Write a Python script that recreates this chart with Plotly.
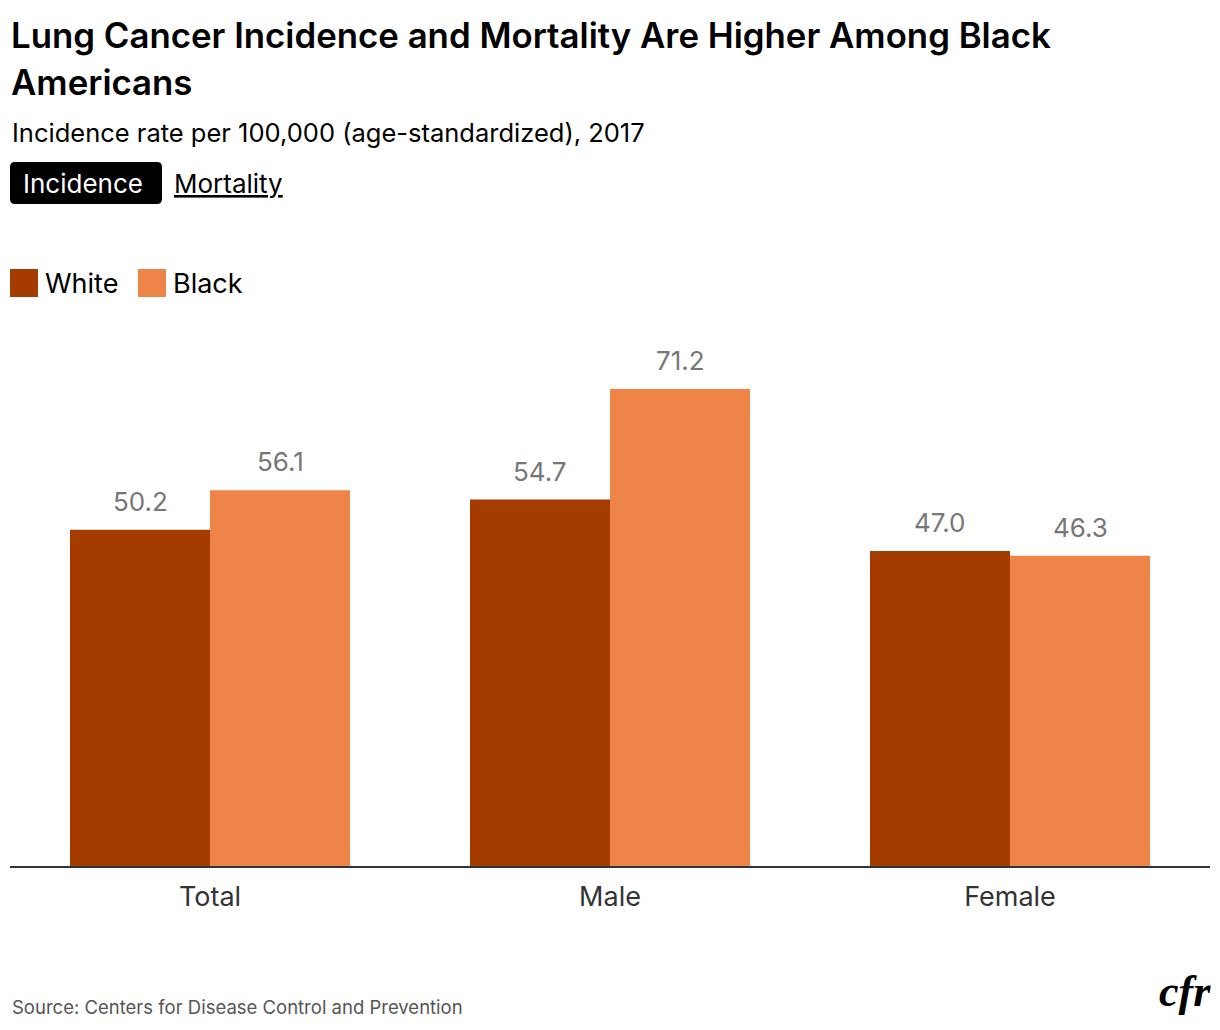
import plotly.graph_objects as go

categories = ["Total", "Male", "Female"]
series_names = ["White", "Black"]
white_values = [50.2, 54.7, 47.0]
black_values = [56.1, 71.2, 46.3]
colors = ["#A43C00", "#EE8447"]

title_lines = ["Lung Cancer Incidence and Mortality Are Higher Among Black", "Americans"]
subtitle = "Incidence rate per 100,000 (age-standardized), 2017"
buttons = ["Incidence", "Mortality"]
source = "Source: Centers for Disease Control and Prevention"

W, H = 1220, 1030
ML, MR, MT, MB = 10, 10, 330, 164
PW, PH = W - ML - MR, H - MT - MB

def px(x):
    return (x - ML) / PW

def py(y):
    return (H - MB - y) / PH

FONT = "Inter"
fig = go.Figure()
series_vals = [white_values, black_values]
for name, vals, col in zip(series_names, series_vals, colors):
    fig.add_trace(go.Bar(x=categories, y=vals, name=name, marker_color=col,
                         marker_line_width=0, showlegend=False))

annotations = []
# value labels
for i, vals in enumerate(series_vals):
    shift = -70 if i == 0 else 70
    for c, v in zip(categories, vals):
        annotations.append(dict(x=c, y=v, xref="x", yref="y", text=f"{v:.1f}",
                                showarrow=False, xshift=shift, yshift=11, yanchor="bottom",
                                font=dict(family=FONT, size=26, color="#777777")))

# titles
for line, yy in zip(title_lines, [35, 82]):
    annotations.append(dict(x=px(9), y=py(yy), xref="paper", yref="paper", text=line,
                            xanchor="left", yanchor="middle", showarrow=False,
                            font=dict(family=FONT, size=34.8, color="#000000", weight=600)))
annotations.append(dict(x=px(10), y=py(133), xref="paper", yref="paper", text=subtitle,
                        xanchor="left", yanchor="middle", showarrow=False,
                        font=dict(family=FONT, size=25.5, color="#000000")))
# buttons
annotations.append(dict(x=px(83), y=py(183), xref="paper", yref="paper", text=buttons[0],
                        xanchor="center", yanchor="middle", showarrow=False,
                        font=dict(family=FONT, size=26, color="#ffffff")))
annotations.append(dict(x=px(172), y=py(183), xref="paper", yref="paper", text=f"<u>{buttons[1]}</u>",
                        xanchor="left", yanchor="middle", showarrow=False,
                        font=dict(family=FONT, size=26, color="#000000")))

shapes = []
# rounded black button
x0, x1, y0, y1, r = px(10), px(162), py(162), py(204), 5
rx, ry = r / PW, r / PH
path = (f"M {x0+rx},{y0} L {x1-rx},{y0} Q {x1},{y0} {x1},{y0-ry} L {x1},{y1+ry} "
        f"Q {x1},{y1} {x1-rx},{y1} L {x0+rx},{y1} Q {x0},{y1} {x0},{y1+ry} L {x0},{y0-ry} "
        f"Q {x0},{y0} {x0+rx},{y0} Z")
shapes.append(dict(type="path", xref="paper", yref="paper", path=path,
                   fillcolor="#000000", line_width=0))

# legend
leg_x = [10, 138]
for name, col, lx in zip(series_names, colors, leg_x):
    shapes.append(dict(type="rect", xref="paper", yref="paper",
                       x0=px(lx), x1=px(lx + 28), y0=py(297), y1=py(269),
                       fillcolor=col, line_width=0))
    annotations.append(dict(x=px(lx + 33), y=py(283), xref="paper", yref="paper", text=name,
                            xanchor="left", yanchor="middle", showarrow=False,
                            font=dict(family=FONT, size=27, color="#000000")))

# source + logo
annotations.append(dict(x=px(10), y=py(1007), xref="paper", yref="paper", text=source,
                        xanchor="left", yanchor="middle", showarrow=False,
                        font=dict(family=FONT, size=18.5, color="#555555")))
annotations.append(dict(x=px(1213), y=py(991), xref="paper", yref="paper", text="<b><i>cfr</i></b>",
                        xanchor="right", yanchor="middle", showarrow=False,
                        font=dict(family="Liberation Serif", size=44, color="#000000")))

fig.update_layout(
    width=W, height=H,
    margin=dict(l=ML, r=MR, t=MT, b=MB, pad=0),
    paper_bgcolor="#ffffff", plot_bgcolor="#ffffff",
    barmode="group", bargap=0.3, bargroupgap=0,
    annotations=annotations, shapes=shapes,
    xaxis=dict(showgrid=False, showline=True, linecolor="#333333", linewidth=2,
               ticks="", ticklabelstandoff=6, range=[-0.5, 2.5],
               tickfont=dict(family=FONT, size=27, color="#333333"), fixedrange=True),
    yaxis=dict(range=[0, 80], visible=False, showgrid=False, zeroline=False, fixedrange=True),
    font=dict(family=FONT),
)

fig.write_html("out.html", config={"displayModeBar": False})
